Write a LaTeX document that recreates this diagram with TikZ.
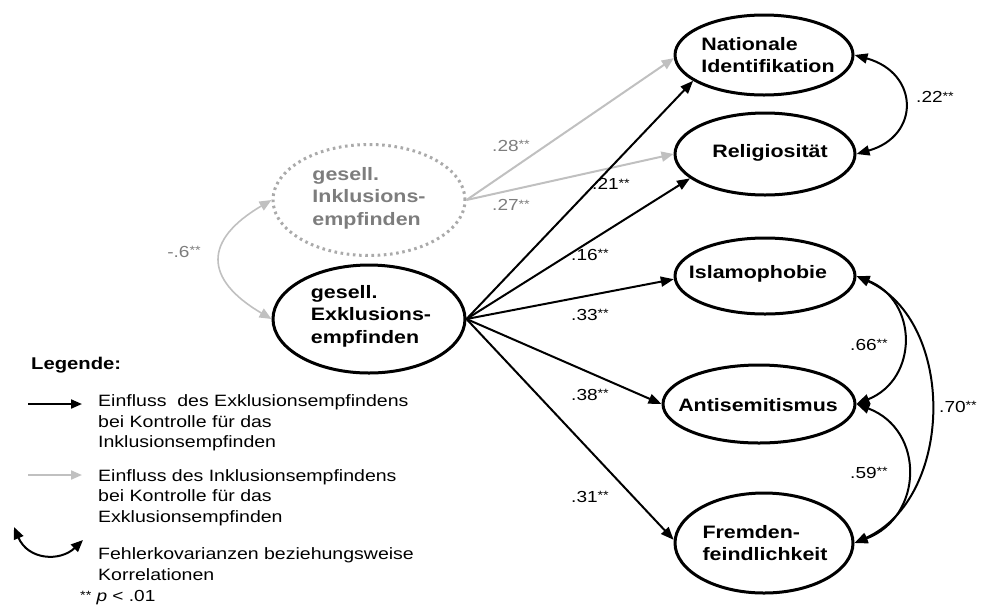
\documentclass[tikz,border=0pt]{standalone}
\usepackage{fontspec}
\setmainfont[FakeStretch=1.19]{Liberation Sans}
\usetikzlibrary{arrows.meta,shapes.geometric}
\definecolor{lgrey}{RGB}{192,192,192}
\definecolor{tgrey}{RGB}{125,125,125}
\definecolor{dgrey}{RGB}{170,170,170}
\newcommand\twostar{\raisebox{0.3ex}{\fontsize{12}{12}\selectfont **}}
\begin{document}
\begin{tikzpicture}[x=1pt,y=-1pt,
 ell/.style={ellipse, draw=black, line width=3pt, inner sep=0pt},
 ltxt/.style={align=left, inner sep=0pt, font=\fontsize{18}{22.5}\selectfont\bfseries},
 blk/.style={draw=black, line width=2pt, -{Triangle[length=13pt,width=10pt]}},
 gry/.style={draw=lgrey, line width=2pt, -{Triangle[length=12pt,width=10pt]}},
 cov/.style={draw=black, line width=2pt, {Triangle[length=13pt,width=10pt]}-{Triangle[length=13pt,width=10pt]}},
 gcov/.style={draw=lgrey, line width=1.6pt, {Triangle[length=12pt,width=10pt]}-{Triangle[length=12pt,width=10pt]}},
 num/.style={font=\fontsize{16}{18}\selectfont, inner sep=0pt},
 leg/.style={font=\fontsize{16.4}{20.5}\selectfont, align=left, anchor=west, inner sep=0pt},
]
\useasboundingbox (0,0) rectangle (981,614);

% ellipses
\node[ell, minimum width=178pt, minimum height=80pt] (nat) at (764,55) {};
\node[ell, minimum width=180pt, minimum height=82pt] (rel) at (765,154) {};
\node[ell, minimum width=180pt, minimum height=76pt] (isl) at (765,276) {};
\node[ell, minimum width=192pt, minimum height=78pt] (anti) at (759,404) {};
\node[ell, minimum width=178pt, minimum height=100pt] (frem) at (764,543) {};
\node[ell, minimum width=192pt, minimum height=108pt] (exkl) at (369,319) {};
\node[ellipse, draw=dgrey, line width=3pt, dash pattern=on 2.6pt off 3.6pt, inner sep=0pt,
      minimum width=192pt, minimum height=111pt] (inkl) at (369,200) {};

% ellipse texts
\node[ltxt] (natt) at (768,55) {Nationale\\Identifikation};
\node[ltxt] (relt) at (770,153) {Religiosität};
\node[ltxt] (islt) at (758,274) {Islamophobie};
\node[ltxt] (antit) at (758,405) {Antisemitismus};
\node[ltxt] (fremt) at (765,543) {Fremden-\\feindlichkeit};
\node[ltxt] (exklt) at (371,316) {gesell.\\Exklusions-\\empfinden};
\node[ltxt, text=tgrey] (inklt) at (369,198) {gesell.\\Inklusions-\\empfinden};

% paths
\draw[gry] (inkl.east) -- (nat.182);
\draw[gry] (inkl.east) -- (rel.west);
\draw[blk] (exkl.east) -- (nat.200);
\draw[blk] (exkl.east) -- (rel.198);
\draw[blk] (exkl.east) -- (isl.182);
\draw[blk] (exkl.east) -- (anti.west);
\draw[blk] (exkl.east) -- (frem.178);

% covariances
\draw[gcov] (inkl.west) .. controls +(-68,40) and +(-68,-40) .. (exkl.west);
\draw[cov] (nat.east) .. controls +(65,18) and +(64,-18) .. (rel.east);
\draw[cov] (isl.east) .. controls +(62,25) and +(62,-25) .. (anti.east);
\draw[cov] (anti.east) .. controls +(69,26) and +(69,-26) .. (frem.east);
\draw[cov] (isl.east) .. controls +(100,45) and +(100,-45) .. (frem.east);

% numbers
\node[num, text=tgrey] (l28) at (511,146) {.28\twostar};
\node[num, text=tgrey] (l27) at (511,205) {.27\twostar};
\node[num] (l21) at (611,184) {.21\twostar};
\node[num] (l16) at (590,255) {.16\twostar};
\node[num] (l33) at (590,315) {.33\twostar};
\node[num] (l38) at (590,395) {.38\twostar};
\node[num] (l31) at (590,497) {.31\twostar};
\node[num] (l22) at (935,97) {.22\twostar};
\node[num] (l66) at (869,345) {.66\twostar};
\node[num] (l70) at (958,407) {.70\twostar};
\node[num] (l59) at (869,473) {.59\twostar};
\node[num, text=tgrey] (l6) at (184,252) {-.6\twostar};

% legend
\node[anchor=west, inner sep=0pt, font=\fontsize{17}{20}\selectfont\bfseries] (legt) at (31,365) {Legende:};
\coordinate (a1s) at (28,404);
\coordinate (a1e) at (82,404);
\draw[draw=black, line width=2pt, -{Triangle[length=11pt,width=9pt]}] (a1s) -- (a1e);
\node[leg] (lt1) at (98,423) {Einfluss~ des Exklusionsempfindens\\bei Kontrolle für das\\Inklusionsempfinden};
\coordinate (a2s) at (28,475);
\coordinate (a2e) at (82,475);
\draw[draw=lgrey, line width=2pt, -{Triangle[length=11pt,width=9pt]}] (a2s) -- (a2e);
\node[leg] (lt2) at (98,497.5) {Einfluss des Inklusionsempfindens\\bei Kontrolle für das\\Exklusionsempfinden};
\coordinate (c1) at (14,527);
\coordinate (c2) at (83,540);
\draw[draw=black, line width=2pt, {Triangle[length=12pt,width=10pt]}-{Triangle[length=12pt,width=10pt]}] (c1) .. controls +(14,33) and +(-23,22) .. (c2);
\node[leg] (lt3) at (98,564) {Fehlerkovarianzen beziehungsweise\\Korrelationen};
\node[anchor=west, inner sep=0pt, font=\fontsize{16}{18}\selectfont] (pn) at (80,598) {\raisebox{0.3ex}{\fontsize{12}{12}\selectfont **} \textit{p} < .01};
\end{tikzpicture}
\end{document}
